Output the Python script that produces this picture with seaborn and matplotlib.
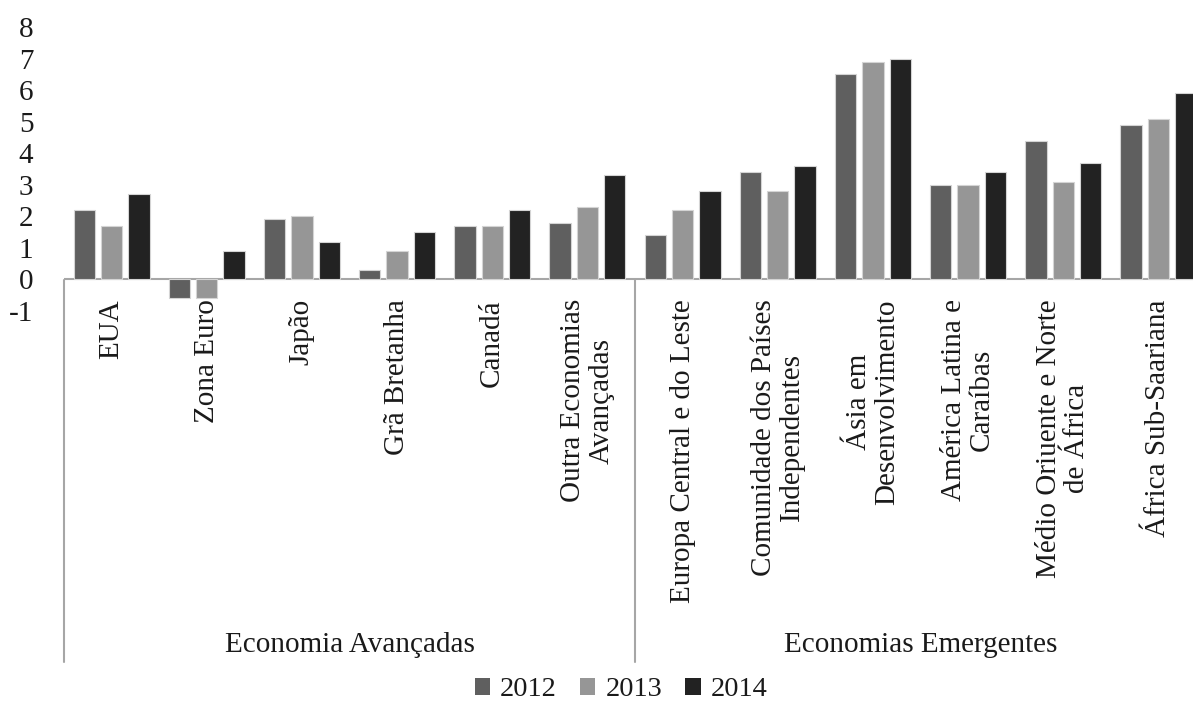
import matplotlib
matplotlib.use("Agg")
import matplotlib.pyplot as plt
import matplotlib.transforms as mtransforms
from matplotlib.patches import Patch
import seaborn as sns
import pandas as pd

# ---- data ----
categories = [
    "EUA", "Zona Euro", "Japão", "Grã Bretanha", "Canadá",
    "Outra Economias\nAvançadas",
    "Europa Central e do Leste", "Comunidade dos Países\nIndependentes",
    "Ásia em\nDesenvolvimento", "América Latina e\nCaraíbas",
    "Médio Oriuente e Norte\nde África", "África Sub-Saariana",
]
years = ["2012", "2013", "2014"]
v2012 = [2.2, -0.6, 1.9, 0.3, 1.7, 1.8, 1.4, 3.4, 6.5, 3.0, 4.4, 4.9]
v2013 = [1.7, -0.6, 2.0, 0.9, 1.7, 2.3, 2.2, 2.8, 6.9, 3.0, 3.1, 5.1]
v2014 = [2.7, 0.9, 1.2, 1.5, 2.2, 3.3, 2.8, 3.6, 7.0, 3.4, 3.7, 5.9]
groups = ["Economia Avançadas", "Economias Emergentes"]
group_sizes = [6, 6]
yticks = [-1, 0, 1, 2, 3, 4, 5, 6, 7, 8]
colors = ["#5f5f5f", "#969696", "#222222"]

rows = []
for yr, vals in zip(years, [v2012, v2013, v2014]):
    for c, v in zip(categories, vals):
        rows.append({"cat": c, "year": yr, "val": v})
df = pd.DataFrame(rows)

sns.set_style("white")
plt.rcParams["font.family"] = ["Liberation Serif", "DejaVu Serif"]

W, H = 1193, 709
fig = plt.figure(figsize=(W / 100, H / 100), dpi=100)
left_px, right_px, top_px, bot_px = 64, 1206, 27, 311
ax = fig.add_axes([left_px / W, 1 - bot_px / H, (right_px - left_px) / W, (bot_px - top_px) / H])

sns.barplot(data=df, x="cat", y="val", hue="year", order=categories, hue_order=years,
            palette=colors, width=0.86, gap=0.22, edgecolor="#d4d4d4", linewidth=0.8,
            saturation=1, ax=ax, legend=False)

ax.set_xlim(-0.5, len(categories) - 0.5)
ax.set_ylim(-1, 8)
ax.set_yticks(yticks)
ax.set_yticklabels([str(t) for t in yticks])
for s in ax.spines.values():
    s.set_visible(False)
ax.set_xlabel("")
ax.set_ylabel("")
ax.tick_params(axis="y", length=0, pad=22, labelsize=21, colors="#1a1a1a")
ax.tick_params(axis="x", length=0, pad=-8.6, labelsize=21, labelrotation=90, colors="#1a1a1a")
for lab in ax.get_xticklabels():
    lab.set_multialignment("center")
    lab.set_va("top")
    lab.set_ha("center")
    lab.set_linespacing(1.1)

ax.axhline(0, color="#a6a6a6", lw=1.5, zorder=0)

# group separators and labels
tr = mtransforms.blended_transform_factory(ax.transData, fig.transFigure)
y_top = 1 - 280 / H
y_bot = 1 - 662 / H
start = 0
bounds = [-0.5]
for n in group_sizes:
    start += n
    bounds.append(start - 0.5)
for b in bounds:
    ax.plot([b, b], [y_top, y_bot], transform=tr, color="#a6a6a6", lw=1.5, clip_on=False)
for i, g in enumerate(groups):
    xc = (bounds[i] + bounds[i + 1]) / 2
    ax.text(xc, 1 - 652 / H, g, transform=tr, ha="center", va="baseline",
            fontsize=21, color="#1a1a1a")

handles = [Patch(facecolor=c, edgecolor="none") for c in colors]
fig.legend(handles, years, loc="center", bbox_to_anchor=(621 / W, 1 - 690 / H), ncol=3,
           frameon=False, fontsize=20.5, handlelength=0.55, handleheight=0.55,
           handletextpad=0.35, columnspacing=0.8, labelcolor="#1a1a1a")

fig.savefig("out.png", dpi=100)
